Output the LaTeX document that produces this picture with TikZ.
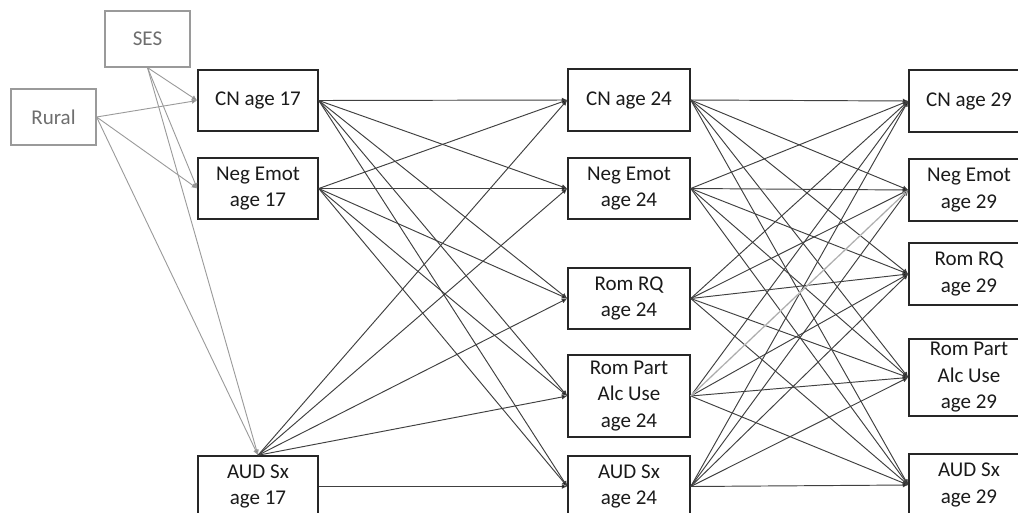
\documentclass[tikz,border=0pt]{standalone}
\usepackage{fontspec}
\setmainfont{Carlito}
\usetikzlibrary{arrows.meta}
\definecolor{edgecol}{HTML}{404040}
\definecolor{covcol}{HTML}{9A9A9A}
\definecolor{covtext}{HTML}{6E6E6E}
\definecolor{boxtext}{HTML}{1A1A1A}
\begin{document}
\begin{tikzpicture}[x=1pt,y=-1pt,
  varbox/.style={draw=black!85, line width=1.5pt, fill=white, align=center,
    inner sep=0pt, text=boxtext, font=\fontsize{21}{26.5}\selectfont,
    minimum width=120, minimum height=61},
  covbox/.style={varbox, draw=covcol, text=covtext, line width=1.2pt,
    minimum width=85, minimum height=56},
  path/.style={draw=edgecol, line width=0.95pt,
    -{Latex[length=5.5pt,width=5pt,fill=black]}},
  covpath/.style={draw=covcol, line width=0.9pt,
    -{Latex[length=5.5pt,width=5pt,fill=gray]}},
  litepath/.style={path, draw=edgecol!45}]
\clip (0,0) rectangle (1018,512);
\fill[white] (0,0) rectangle (1018,512);

% covariates
\node[covbox] (ses) at (147.5,39) {SES};
\node[covbox] (rural) at (53.5,117) {Rural};

% age 17
\node[varbox] (cn17) at (258,100.5) {CN age 17};
\node[varbox] (ne17) at (258,188.5) {Neg Emot\\age 17};
\node[varbox] (aud17) at (258,486.5) {AUD Sx\\age 17};

% age 24
\node[varbox, minimum width=122, minimum height=62] (cn24) at (629,100) {CN age 24};
\node[varbox, minimum width=122] (ne24) at (629,188.5) {Neg Emot\\age 24};
\node[varbox, minimum width=122] (rq24) at (629,298.5) {Rom RQ\\age 24};
\node[varbox, minimum width=122, minimum height=82] (rp24) at (629,396) {Rom Part\\Alc Use\\age 24};
\node[varbox, minimum width=122] (aud24) at (629,486.5) {AUD Sx\\age 24};

% age 29
\node[varbox, minimum height=62] (cn29) at (969,101) {CN age 29};
\node[varbox, minimum height=62] (ne29) at (969,190) {Neg Emot\\age 29};
\node[varbox, minimum height=62] (rq29) at (969,274) {Rom RQ\\age 29};
\node[varbox, minimum height=77] (rp29) at (969,377.5) {Rom Part\\Alc Use\\age 29};
\node[varbox, minimum height=62] (aud29) at (969,485) {AUD Sx\\age 29};

% covariate paths
\foreach \t in {cn17,ne17} {
  \draw[covpath] (ses.south) -- (\t.west);
  \draw[covpath] (rural.east) -- (\t.west);
}
\draw[covpath] (ses.south) -- (aud17.north);
\draw[covpath] (rural.east) -- (aud17.north);

% age 17 -> age 24
\foreach \s in {cn17,ne17} {
  \foreach \t in {cn24,ne24,rq24,rp24,aud24} {
    \draw[path] (\s.east) -- (\t.west);
  }
}
\foreach \t in {cn24,ne24,rq24,rp24} {
  \draw[path] (aud17.north) -- (\t.west);
}
\draw[path] (aud17.east) -- (aud24.west);

% age 24 -> age 29
\foreach \s in {cn24,ne24,rq24,rp24,aud24} {
  \foreach \t in {cn29,ne29,rq29,rp29,aud29} {
    \draw[path] (\s.east) -- (\t.west);
  }
}
% the one lighter path, drawn over its dark copy
\draw[draw=white, line width=1.3pt, shorten >=6pt] (rp24.east) -- (ne29.west);
\draw[litepath] (rp24.east) -- (ne29.west);
\end{tikzpicture}
\end{document}
